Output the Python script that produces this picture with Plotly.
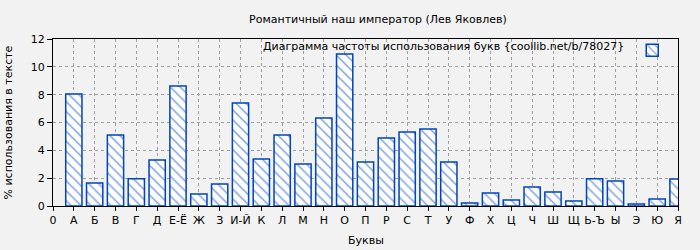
import plotly.graph_objects as go

title = "Романтичный наш император (Лев Яковлев)"
legend_text = "Диаграмма частоты использования букв {coollib.net/b/78027}"
x_title = "Буквы"
y_title = "% использования в тексте"

categories = ["0", "А", "Б", "В", "Г", "Д", "Е-Ё", "Ж", "З", "И-Й", "К", "Л", "М", "Н",
              "О", "П", "Р", "С", "Т", "У", "Ф", "Х", "Ц", "Ч", "Ш", "Щ", "Ь-Ъ", "Ы",
              "Э", "Ю", "Я"]
letters = categories[1:]
values = [8.05, 1.65, 5.10, 1.96, 3.30, 8.62, 0.86, 1.58, 7.40, 3.38, 5.10, 3.02, 6.32,
          10.92, 3.16, 4.89, 5.32, 5.53, 3.16, 0.22, 0.93, 0.43, 1.36, 1.00, 0.36,
          1.96, 1.80, 0.14, 0.50, 1.94]

BLUE = "#0044BB"
BG = "#F2F2F2"
FONT = "DejaVu Sans"

fig = go.Figure()
fig.add_trace(go.Bar(
    x=letters, y=values, name="", width=0.78,
    marker=dict(color="white",
                line=dict(color=BLUE, width=1.5),
                pattern=dict(shape="\\", fgcolor=BLUE, bgcolor="white",
                             size=7, solidity=0.22)),
    showlegend=True,
))

fig.update_layout(
    width=700, height=250,
    margin=dict(l=53, r=22, t=39, b=44, autoexpand=False),
    paper_bgcolor=BG, plot_bgcolor=BG,
    font=dict(family=FONT, size=11, color="#000"),
    title=dict(text=title, x=0.52, xref="paper", y=0.925, yanchor="middle",
               font=dict(size=11)),
    showlegend=True,
    legend=dict(x=1.0, y=1.02, xanchor="right", yanchor="top",
                bgcolor="rgba(0,0,0,0)", itemwidth=30,
                title=dict(text=legend_text, side="left", font=dict(size=11)),
                font=dict(size=11)),
    annotations=[
        dict(text=x_title, xref="paper", yref="paper", x=0.5, y=-0.204,
             xanchor="center", yanchor="middle", showarrow=False, font=dict(size=11)),
        dict(text=y_title, xref="paper", yref="paper", x=-0.072, y=0.5,
             xanchor="center", yanchor="middle", textangle=-90, showarrow=False,
             font=dict(size=11)),
    ],
    bargap=0.2,
)
fig.update_xaxes(
    type="category", categoryorder="array", categoryarray=categories,
    range=[0, 30], showline=True, linecolor="black", linewidth=1, mirror=True,
    ticks="outside", ticklen=4, tickcolor="black",
    tickmode="array", tickvals=categories, ticktext=categories,
    showgrid=True, gridcolor="#A0A0A0", griddash="dot", gridwidth=1,
    tickangle=0, automargin=False,
)
fig.update_yaxes(
    range=[0, 12], dtick=2, showline=True, linecolor="black", linewidth=1, mirror=True,
    ticks="outside", ticklen=5, tickcolor="black",
    showgrid=True, gridcolor="#A0A0A0", griddash="dot", gridwidth=1,
    zeroline=False, automargin=False,
)

fig.write_html("out.html")
